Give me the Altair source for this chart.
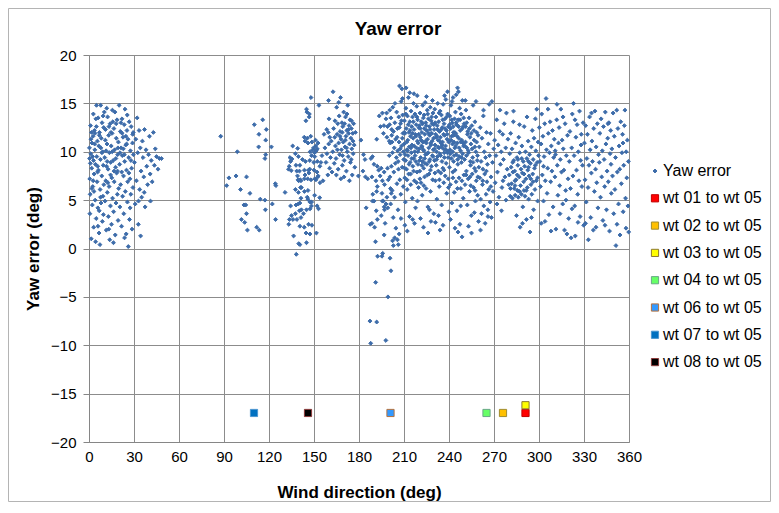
import altair as alt
import pandas as pd

# ---- Yaw error scatter: (wind direction, yaw error) ----
sec_000 = [(0.3,10.4),(0.5,7.2),(0.8,5.6),(1.0,12.7),(1.2,9.8),(0.6,3.6),(1.5,1.0),(1.8,8.3),(2.0,10.9),(2.2,4.5),
           (2.5,6.4),(2.7,11.6),(3.0,9.1),(3.1,2.2),(3.4,7.7),(3.6,12.2),(3.9,10.2),(4.1,5.0),(4.3,8.7),(4.6,13.4),
           (4.8,3.1),(5.0,14.8),(5.2,9.5),(5.4,6.9),(5.6,11.1),(5.9,4.2),(6.1,13.5),(6.3,8.1),(6.5,10.6),(6.7,1.6),
           (7.0,12.0),(7.3,0.4),(7.4,6.1),(7.6,9.2),(7.8,14.8),(8.0,4.7),(8.2,11.4),(8.5,7.5),(8.7,13.0),(8.9,2.8),
           (9.1,10.0),(9.3,5.4),(9.5,8.6),(9.8,12.5),(9.9,6.6),(1.3,11.3),(2.9,13.9),(4.4,0.7),(6.8,3.9),(3.3,5.9),
           (0.9,8.8),(5.7,7.9),(7.9,10.4),(9.6,3.5),(2.4,9.5),(6.0,2.3),
           (0.4,9.3),(1.7,12.0),(2.8,7.0),(3.8,10.8),(4.9,12.6),(5.8,8.5),(6.9,11.7),(7.7,5.3),(8.6,9.9),(9.4,13.7),
           (1.9,6.2),(4.0,11.9)]
sec_010 = [(10.2,14.1),(10.5,9.4),(10.7,4.9),(11.0,12.3),(11.2,7.0),(11.5,1.9),(11.8,14.5),(12.0,10.8),(12.2,5.8),(12.4,13.6),
           (12.7,8.2),(12.9,3.3),(13.1,11.7),(13.4,6.4),(13.6,9.9),(13.8,0.9),(14.1,12.9),(14.3,4.4),(14.5,8.9),(14.8,10.6),
           (15.0,2.5),(15.2,7.3),(15.4,11.9),(15.7,5.2),(15.9,13.1),(16.1,9.1),(16.4,3.8),(16.6,12.4),(16.8,6.9),(17.1,10.2),
           (17.3,14.1),(17.5,1.4),(17.7,8.4),(18.0,4.7),(18.2,11.4),(18.4,7.8),(18.7,13.3),(18.9,5.6),(19.1,9.7),(19.4,2.9),
           (19.6,11.0),(19.8,6.2),(11.4,10.1),(13.2,2.0),(15.6,14.3),(17.9,9.3),(12.6,6.8),(16.3,0.6),(14.6,12.0),(19.0,8.0),
           (10.9,11.2),(12.1,9.0),(13.3,12.6),(14.4,7.6),(15.5,10.0),(16.7,8.0),(18.1,12.9),(19.3,10.4),(11.7,8.5)]
sec_020 = [(20.1,14.8),(20.4,8.7),(20.6,4.3),(20.9,12.1),(21.1,6.6),(21.4,10.4),(21.7,2.3),(22.0,13.4),(22.2,9.6),(22.4,5.4),
           (22.7,11.5),(23.0,7.5),(23.2,3.6),(23.5,12.8),(23.8,9.0),(24.0,14.4),(24.2,5.9),(24.5,10.7),(24.8,1.5),(25.0,8.1),
           (25.3,12.2),(25.6,4.8),(25.8,6.9),(26.0,11.3),(26.2,0.2),(26.5,9.4),(26.8,13.1),(27.0,3.0),(27.3,7.2),(27.6,10.1),
           (27.9,5.6),(28.1,12.6),(28.4,8.3),(28.7,2.0),(29.0,10.9),(29.3,6.3),(29.6,9.7),(21.8,7.9),(23.7,1.1),(25.5,13.8),
           (27.4,4.2),(29.1,11.8),(22.9,10.3),
           (20.7,9.9),(22.1,11.9),(23.6,9.7),(25.1,10.8),(26.6,7.8),(28.0,9.1),(29.5,12.0),(21.3,13.0),(24.6,11.6)]
sec_030 = [(30.3,8.9),(30.8,4.6),(31.2,11.3),(31.6,7.0),(32.1,13.5),(32.5,9.9),(32.9,2.5),(33.4,12.2),(33.8,6.1),(34.2,10.4),
           (34.7,8.0),(35.1,5.3),(35.6,11.1),(36.0,9.4),(36.5,7.4),(37.0,12.3),(37.4,4.3),(38.0,10.2),(38.5,8.5),(39.1,6.6),
           (39.7,9.7),(40.3,11.6),(40.8,7.7),(41.5,9.1),(42.1,6.9),(42.9,12.0),(43.6,8.6),(44.2,10.3),(45.0,9.5),(46.0,8.2),
           (47.0,9.3),(33.0,4.9),(36.8,5.8),(41.0,4.9),(34.4,1.3),(48.3,9.3)]
sec_090 = [(87.8,11.6),(98.9,10.0),(93.3,7.3),(91.8,6.5),(98.0,7.5),(105.0,7.4),(101.0,6.1),(107.3,5.7),(103.3,4.5),(104.5,4.5),
           (105.0,3.6),(101.6,3.0),(103.8,2.7),(105.6,1.9),(111.8,2.2),(113.5,1.9),(110.2,12.8),(115.8,13.3),(118.2,12.3),(113.3,11.8),
           (117.8,11.2),(121.6,10.5),(117.8,9.7),(117.3,9.3),(114.2,5.1),(117.3,5.0),(122.2,4.6),(117.6,4.0),(124.4,3.0),(124.2,6.7),
           (124.6,6.5),(113.1,10.5),(130.7,5.8)]
sec_130 = [(135.8,10.6),(134.0,9.4),(135.3,9.25),(134.4,9.0),(133.5,8.5),(133.0,8.2),(134.8,8.05),(137.6,9.8),(139.1,10.35),(139.6,9.5),
           (138.0,8.6),(140.6,8.6),(138.5,8.0),(139.0,7.5),(139.4,7.1),(139.8,7.0),(140.8,7.1),(141.0,6.3),(141.6,6.3),(137.6,6.1),
           (139.6,5.8),(143.6,5.9),(146.0,6.0),(145.5,5.3),(145.9,5.1),(141.3,5.2),(147.3,4.8),(148.4,4.8),(150.4,5.5),(153.8,5.25),
           (134.4,4.4),(138.0,4.5),(139.5,4.6),(140.6,4.7),(137.6,3.6),(140.3,3.9),(141.6,4.0),(143.0,3.6),(135.0,3.4),(136.0,3.0),
           (138.6,3.0),(141.3,3.2),(133.6,3.0),(133.2,2.5),(145.0,4.0),(148.3,4.4),(152.1,4.4),(153.0,4.1),(147.4,4.1),(140.6,2.3),
           (143.5,2.2),(146.4,2.5),(148.6,2.4),(136.4,1.3),(144.7,1.6),(147.3,1.5),(151.6,1.6),(139.8,0.5),(140.6,0.4),(145.0,0.6),
           (138.2,-0.6),(145.3,14.1),(146.8,13.6),(144.6,13.2),(148.0,15.6),(153.3,14.8),(145.0,14.4),(146.9,13.9),(143.5,11.5),(145.5,11.4),
           (144.0,11.1),(147.8,11.6),(146.0,10.9),(148.6,11.0),(151.0,11.2),(152.7,10.9),(149.7,10.4),(151.2,10.6),(147.4,10.0),(149.2,10.2),
           (150.3,9.9),(151.5,10.1),(152.2,10.3),(148.4,9.6),(150.5,9.5),(142.3,9.2),(144.3,9.0),(147.2,9.1),(149.9,8.9),(152.2,9.0),
           (154.6,8.9),(153.9,8.5),(140.3,8.0),(143.6,8.1),(146.3,8.1),(147.2,8.2),(144.0,7.6),(146.6,7.8),(150.0,8.1),(152.0,7.9),
           (152.8,7.5),(151.3,7.1),(141.3,7.0),(143.6,7.2),(145.8,7.2),(148.0,7.1),(150.5,7.2),(152.5,7.4),(154.0,6.8),(156.0,7.0),
           (155.3,9.6),(156.7,11.8),(158.5,12.3),(159.5,12.0),(160.5,11.5),(159.7,15.3)]
sec_160 = [(157.3,10.4),(158.0,8.9),(158.6,9.8),(159.2,7.6),(159.8,10.8),(160.4,8.3),(161.0,9.4),(161.5,11.1),(162.0,7.9),(162.5,10.0),
           (162.7,16.2),(163.1,12.4),(163.5,8.8),(164.0,13.2),(164.3,10.6),(164.7,9.3),(165.1,14.6),(165.4,11.8),(165.8,12.9),(166.1,8.2),
           (166.4,10.9),(166.8,13.7),(167.1,9.7),(167.4,12.1),(167.7,15.6),(168.0,11.3),(168.3,10.2),(168.6,13.0),(168.9,8.6),(169.2,12.6),
           (169.5,11.0),(169.8,14.1),(170.1,9.1),(170.4,12.9),(170.7,10.5),(171.0,13.6),(171.3,11.6),(171.6,8.0),(171.9,12.2),(172.2,10.0),
           (172.5,14.8),(172.8,9.5),(173.1,11.9),(173.4,12.7),(173.7,10.8),(174.0,13.3),(174.3,8.9),(174.6,11.4),(174.9,12.4),(175.2,10.3),
           (175.5,7.6),(175.8,11.9),(176.1,9.8),(176.4,12.9),(176.8,10.7),(177.2,8.4),(164.9,7.6),(167.9,7.2),(170.0,7.4),(173.6,7.0),
           (166.5,15.1),(169.0,9.6),(172.0,13.9),(174.8,9.2),(163.8,11.5),(170.9,11.2),(168.8,12.0),(171.7,10.4),(165.6,10.2),(167.3,11.6),
           (173.0,12.3),(175.0,13.2),(176.0,11.1),(160.0,13.4),(177.6,12.0)]
sec_180 = [(181.3,11.2),(183.0,9.7),(184.0,9.2),(182.6,8.0),(179.6,7.5),(184.3,7.4),(185.8,7.2),(188.0,9.3),(189.0,9.5),(191.8,11.3),
           (193.5,13.7),(195.6,14.0),(198.4,14.0),(200.5,14.3),(198.0,13.4),(196.6,12.7),(194.3,12.6),(199.0,12.6),(201.8,12.3),(196.3,11.9),
           (198.6,11.5),(200.2,11.1),(190.0,8.7),(192.2,8.5),(194.8,8.3),(193.1,8.1),(188.6,7.4),(191.3,7.0),(194.1,7.5),(196.8,7.9),
           (199.0,8.3),(195.6,7.0),(192.2,6.4),(197.0,6.6),(199.5,7.1),(201.0,6.2),(189.2,5.6),(191.8,5.9),(195.3,5.7),(198.6,5.3),
           (196.2,4.9),(189.0,4.9),(190.0,4.9),(195.6,4.9),(196.8,4.3),(198.0,4.6),(199.2,4.2),(197.0,4.0),(184.8,4.2),(191.5,3.9),
           (194.8,3.4),(192.2,3.0),(197.4,2.6),(188.6,2.6),(187.5,2.5),(190.4,2.2),(196.8,1.4),(191.0,0.7),(202.4,0.8),(205.6,0.9),
           (195.8,-0.5),(192.4,-0.8),(195.3,-0.8),(200.7,-1.0),(201.3,-2.3),(191.1,-3.5),(199.3,-5.0),(187.3,-7.5),(191.8,-7.6),(197.9,-9.5),
           (187.8,-9.8)]
sec_200 = [(200.2,9.6),(200.4,12.8),(200.6,7.4),(200.9,10.9),(201.1,4.6),(201.3,13.5),(201.6,8.5),(201.8,11.7),(202.1,6.0),(202.3,9.9),
           (202.5,14.6),(202.8,3.2),(203.0,12.1),(203.2,7.9),(203.5,10.4),(203.7,5.3),(203.9,13.0),(204.2,8.8),(204.4,11.3),(204.6,2.1),
           (204.9,9.4),(205.1,14.1),(205.3,6.7),(205.6,12.4),(205.8,10.1),(206.0,4.0),(206.3,8.2),(206.5,13.6),(206.7,11.0),(207.0,16.8),
           (207.2,7.1),(207.4,9.7),(207.7,12.9),(207.9,5.6),(208.1,15.2),(208.4,10.6),(208.6,16.5),(208.8,8.4),(209.1,13.8),(209.3,11.9),
           (209.5,6.4),(209.8,9.2),(209.0,15.5),(206.8,1.5),(206.2,0.4),(203.8,1.1),(208.0,3.1),(201.5,5.7),(204.0,15.0),(202.0,11.0),
           (202.9,0.3),(205.4,11.5),(206.1,9.0),(206.9,12.5),(207.5,10.3),(208.3,13.2),(208.9,11.4),(209.6,10.0)]
sec_210 = [(210.1,10.8),(210.3,13.2),(210.5,7.3),(210.7,11.9),(210.9,4.8),(211.1,9.1),(211.3,14.5),(211.5,12.4),(211.7,8.2),(211.9,10.2),
           (212.1,6.1),(212.3,13.7),(212.5,11.2),(212.7,9.6),(212.9,15.6),(213.1,7.7),(213.3,12.0),(213.5,10.5),(213.7,3.3),(213.9,13.1),
           (214.1,8.9),(214.3,11.6),(214.5,6.6),(214.7,14.2),(214.9,9.9),(215.1,12.6),(215.3,10.7),(215.5,5.2),(215.7,13.6),(215.9,8.5),
           (216.1,11.4),(216.3,15.0),(216.5,9.3),(216.7,12.3),(216.9,7.0),(217.1,10.0),(217.3,13.9),(217.5,11.8),(217.7,4.2),(217.9,9.0),
           (218.1,12.8),(218.3,10.4),(218.5,14.7),(218.7,7.9),(218.9,11.1),(219.1,13.3),(219.3,8.7),(219.5,10.9),(219.7,6.3),(219.9,12.5),
           (210.6,2.4),(212.2,1.8),(215.8,3.0),(217.0,2.6),(219.0,4.9),(211.4,16.6),(213.8,16.1),(216.6,16.0),(218.8,15.8),
           (210.2,12.0),(210.8,9.7),(211.2,13.9),(211.8,11.0),(212.4,10.1),(212.8,12.8),(213.4,8.7),(214.0,12.2),(214.6,10.4),(215.2,9.3),
           (215.6,11.9),(216.2,13.1),(216.8,10.6),(217.4,9.6),(218.0,11.6),(218.6,13.6),(219.2,10.0),(219.8,11.8),
           (210.5,8.3),(212.0,7.1),(214.4,7.7),(216.4,8.0),(218.4,6.8)]
sec_220 = [(220.1,10.3),(220.3,12.7),(220.5,8.0),(220.7,14.0),(220.9,11.5),(221.1,9.4),(221.3,6.8),(221.5,13.1),(221.7,10.6),(221.9,12.0),
           (222.1,5.5),(222.3,9.0),(222.5,14.8),(222.7,11.0),(222.9,13.5),(223.1,8.3),(223.3,10.1),(223.5,12.4),(223.7,7.4),(223.9,11.8),
           (224.1,15.1),(224.3,9.7),(224.5,13.0),(224.7,6.2),(224.9,10.9),(225.1,12.2),(225.3,8.7),(225.5,14.3),(225.7,11.3),(225.9,4.3),
           (226.1,9.9),(226.3,13.4),(226.5,10.4),(226.7,7.7),(226.9,12.6),(227.1,11.7),(227.3,9.2),(227.5,14.6),(227.7,5.9),(227.9,10.7),
           (228.1,13.2),(228.3,8.5),(228.5,11.9),(228.7,12.9),(228.9,9.6),(229.1,7.1),(229.3,14.0),(229.5,10.2),(229.7,11.4),(229.9,3.6),
           (221.0,3.1),(223.0,2.2),(225.0,15.7),(226.0,1.6),(227.0,4.0),(228.0,2.8),(229.0,15.3),(224.0,8.8),(222.0,10.5),
           (220.4,9.1),(220.8,12.4),(221.4,11.2),(221.8,8.6),(222.4,12.9),(222.8,10.2),(223.4,13.8),(223.8,9.3),(224.4,11.1),(224.8,12.7),
           (225.4,9.8),(225.8,13.9),(226.4,11.9),(226.8,9.0),(227.4,12.3),(227.8,10.9),(228.4,13.6),(228.8,11.1),(229.4,9.5),(229.8,12.8),
           (220.6,7.2),(223.2,6.5),(225.6,7.6),(227.6,8.1)]
sec_230 = [(230.1,12.3),(230.3,9.1),(230.5,14.4),(230.7,10.7),(230.9,7.0),(231.1,11.8),(231.3,13.6),(231.5,8.6),(231.7,10.0),(231.9,5.1),
           (232.1,12.7),(232.3,9.5),(232.5,15.0),(232.7,11.2),(232.9,8.0),(233.1,13.1),(233.3,10.4),(233.5,6.4),(233.7,12.1),(233.9,9.8),
           (234.1,14.2),(234.3,11.5),(234.5,7.8),(234.7,10.9),(234.9,13.8),(235.1,4.5),(235.3,9.0),(235.5,12.5),(235.7,11.0),(235.9,8.3),
           (236.1,14.9),(236.3,10.3),(236.5,6.8),(236.7,12.9),(236.9,9.4),(237.1,11.7),(237.3,13.4),(237.5,7.5),(237.7,10.6),(237.9,15.4),
           (238.1,8.8),(238.3,12.2),(238.5,5.7),(238.7,11.3),(238.9,9.9),(239.1,13.9),(239.3,10.1),(239.5,7.2),(239.7,12.6),(239.9,3.8),
           (231.0,2.7),(233.0,3.4),(234.0,1.9),(236.0,2.4),(237.0,15.8),(239.0,16.2),(235.0,10.5),(232.0,11.6),
           (230.4,10.3),(230.8,13.0),(231.4,11.5),(231.8,9.2),(232.4,12.3),(232.8,10.5),(233.4,14.0),(233.8,11.1),(234.4,9.6),(234.8,12.3),
           (235.4,10.7),(235.8,13.3),(236.4,11.8),(236.8,9.9),(237.4,12.4),(237.8,10.2),(238.4,13.6),(238.8,11.8),(239.4,9.4),(239.8,11.0),
           (230.6,7.8),(233.6,7.1),(236.6,8.1),(239.6,6.3)]
sec_240 = [(240.1,11.1),(240.3,8.4),(240.5,13.7),(240.7,10.2),(240.9,6.6),(241.1,12.4),(241.3,14.8),(241.5,9.3),(241.7,11.6),(241.9,4.7),
           (242.1,13.0),(242.3,10.8),(242.5,7.9),(242.7,15.6),(242.9,12.0),(243.1,9.0),(243.3,11.0),(243.5,5.8),(243.7,13.4),(243.9,10.4),
           (244.1,8.1),(244.3,14.1),(244.5,11.9),(244.7,6.9),(244.9,9.7),(245.1,12.8),(245.3,3.9),(245.5,10.9),(245.7,16.6),(245.9,8.7),
           (246.1,13.3),(246.3,16.2),(246.5,11.4),(246.7,7.3),(246.9,9.5),(247.1,14.5),(247.3,2.5),(247.5,12.2),(247.7,10.1),(247.9,6.2),
           (248.1,13.9),(248.3,8.9),(248.5,11.2),(248.7,1.2),(248.9,15.3),(249.1,9.8),(249.3,12.6),(249.5,5.2),(249.7,10.6),(249.9,7.6),
           (241.0,3.0),(244.0,2.1),(246.0,1.7),(242.0,15.2),(244.8,15.9),(247.8,4.4),(243.2,11.7),
           (240.4,12.8),(240.8,9.8),(241.4,11.2),(241.8,13.3),(242.4,10.0),(242.8,12.6),(243.4,9.6),(243.8,12.0),(244.4,10.6),(244.8,13.0),
           (245.4,11.6),(245.8,9.2),(246.4,12.6),(246.8,10.4),(247.4,13.3),(247.8,11.0),(248.4,9.4),(248.8,12.4),(249.4,10.9),(249.8,13.5),
           (242.6,7.3),(245.6,6.2),(248.6,7.0)]
sec_250 = [(250.1,12.9),(250.4,9.2),(250.7,6.6),(251.0,11.0),(251.3,14.3),(251.6,8.0),(251.9,10.4),(252.2,4.5),(252.5,12.1),(252.8,7.2),
           (253.1,9.9),(253.4,13.5),(253.7,5.9),(254.0,11.5),(254.3,8.6),(254.6,10.8),(254.9,3.4),(255.2,12.7),(255.5,7.7),(255.8,9.4),
           (256.1,14.8),(256.4,6.3),(256.7,11.2),(257.0,8.3),(257.3,13.1),(257.6,4.9),(257.9,10.0),(258.2,7.0),(258.5,12.0),(258.8,9.1),
           (259.1,5.5),(259.4,11.7),(259.7,2.8),(250.9,15.3),(253.0,2.3),(255.0,1.6),(258.0,15.2),(251.8,13.0),(254.5,6.5),(256.9,3.7),
           (259.9,8.4),(250.5,10.6),(251.1,12.6),(251.7,9.6),(252.3,11.8),(252.9,10.1),(253.6,12.4),(254.2,9.0),(254.8,11.9),(255.4,10.3),
           (256.0,8.9),(256.6,12.2),(257.2,10.5),(257.8,8.0),(258.4,11.0),(259.0,9.6),(251.4,7.6),(254.0,7.4),(257.4,6.0),(259.2,7.4)]
sec_260 = [(260.2,10.5),(260.5,7.3),(260.8,12.5),(261.1,5.1),(261.4,9.0),(261.7,3.6),(262.0,11.4),(262.3,6.6),(262.6,8.2),(262.9,13.7),
           (263.2,4.4),(263.5,10.0),(263.8,7.7),(264.1,2.6),(264.4,9.4),(264.7,5.6),(265.0,12.0),(265.3,6.9),(265.6,8.7),(265.9,4.0),
           (266.2,10.8),(266.5,6.1),(266.8,14.9),(267.1,9.6),(267.4,4.8),(267.7,11.9),(268.0,7.4),(268.3,3.2),(268.6,15.2),(269.0,8.9),
           (269.4,5.9),(269.8,10.3),(261.0,1.9),(263.0,14.3),(264.9,8.0),(266.0,3.3),(262.5,7.0),(267.9,6.4)]
sec_270 = [(270.4,11.2),(270.8,6.8),(271.3,9.6),(271.8,13.3),(272.3,7.9),(272.8,10.7),(273.3,5.3),(273.8,12.1),(274.3,8.7),(274.8,10.0),
           (275.3,6.3),(275.8,11.8),(276.3,9.2),(276.8,12.9),(277.3,7.4),(277.8,10.4),(278.3,14.0),(278.8,8.2),(279.3,11.3),(279.8,6.6),
           (272.0,4.6),(275.0,3.9),(278.0,5.0),(274.0,14.3),(276.0,7.0)]
sec_280 = [(280.2,7.6),(280.5,9.8),(280.8,5.4),(281.1,11.9),(281.4,8.4),(281.7,6.7),(282.0,10.3),(282.3,5.2),(282.6,7.9),(282.9,13.1),
           (283.2,9.1),(283.5,6.2),(283.8,8.0),(284.1,5.5),(284.4,10.9),(284.7,7.1),(285.0,3.4),(285.3,9.4),(285.6,6.0),(285.9,8.6),
           (286.2,5.3),(286.5,11.5),(286.8,7.4),(287.1,9.9),(287.4,2.2),(287.7,6.5),(288.0,8.2),(288.3,5.6),(288.6,10.6),(288.9,7.8),
           (289.2,4.3),(289.5,9.0),(289.8,6.9),(290.1,12.6),(290.4,8.5),(290.7,5.4),(291.0,10.0),(291.3,7.2),(291.6,3.0),(291.9,9.3),
           (292.2,6.3),(292.5,8.1),(292.8,11.1),(293.1,5.1),(293.4,7.5),(293.7,9.7),(294.0,1.7),(294.3,8.8),(294.6,6.6),(294.9,10.5),
           (295.2,5.6),(295.5,12.2),(295.8,7.7),(296.1,9.2),(296.4,4.0),(296.7,11.4),(297.0,8.3),(297.3,6.1),(297.6,13.4),(297.9,10.1),
           (298.2,7.0),(298.5,14.4),(298.8,8.9),(299.1,4.9),(299.4,11.0),(299.7,9.6),(283.0,14.2),(287.0,12.8),(289.0,2.6),(292.0,13.6),
           (295.0,3.2),(284.0,7.0),(286.0,9.2),(290.0,6.0),(293.0,8.4),
           (281.0,6.2),(282.5,8.9),(284.0,6.5),(285.5,7.6),(287.0,5.9),(288.5,9.3),(290.0,7.7),(291.5,6.0),(293.0,9.0),(294.5,7.2),
           (296.0,6.9),(297.5,8.6),(299.0,7.3)]
sec_300 = [(300.2,12.5),(300.6,9.0),(301.0,6.4),(301.4,10.8),(301.8,13.9),(302.2,7.6),(302.6,11.6),(303.0,4.9),(303.4,9.5),(303.8,12.9),
           (304.2,7.0),(304.7,15.5),(305.0,10.2),(305.4,5.7),(305.8,8.3),(306.2,11.9),(306.6,3.5),(307.0,9.9),(307.4,13.1),(307.8,6.9),
           (308.2,10.6),(308.6,8.0),(309.0,12.2),(309.4,4.3),(309.8,9.4),(301.5,2.6),(304.0,2.8),(306.0,14.4),(308.0,1.8),(303.0,8.5)]
sec_310 = [(310.2,11.3),(310.6,7.4),(311.0,9.7),(311.3,2.0),(311.8,13.3),(312.2,8.6),(312.6,5.5),(313.0,10.9),(313.4,12.5),(313.8,6.5),
           (314.2,9.2),(314.6,14.4),(315.0,7.9),(315.4,11.2),(315.8,4.6),(316.2,10.3),(316.6,8.1),(317.0,1.9),(317.4,12.9),(317.8,6.0),
           (318.2,9.6),(318.6,1.5),(319.0,11.7),(319.4,7.2),(319.8,3.1),(312.0,14.9),(316.0,13.6),(314.0,3.6),(318.0,5.0),(310.8,10.1)]
sec_320 = [(320.2,9.0),(320.6,12.1),(321.0,6.2),(321.4,1.1),(321.8,10.4),(322.2,13.9),(322.6,7.5),(323.0,15.0),(323.4,9.6),(323.8,4.4),
           (324.2,1.3),(324.6,11.5),(325.0,8.1),(325.4,12.8),(325.8,5.6),(326.2,10.0),(326.6,7.0),(327.0,14.2),(327.4,3.3),(327.8,9.1),
           (328.2,11.8),(328.6,6.4),(329.0,8.6),(329.4,13.0),(329.8,2.4),(322.0,4.1),(326.0,2.7),(328.0,10.7),(324.0,13.3)]
sec_330 = [(330.3,10.9),(330.7,7.1),(331.1,12.7),(331.5,4.8),(331.9,9.3),(332.3,11.8),(332.7,6.3),(332.9,0.9),(333.3,8.6),(333.7,13.6),
           (334.1,10.2),(334.5,3.2),(334.9,7.8),(335.3,11.1),(335.7,9.0),(336.2,1.9),(336.5,12.4),(336.9,5.9),(337.3,14.2),(337.7,8.2),
           (338.1,10.5),(338.5,6.8),(338.9,12.9),(339.3,4.2),(339.7,9.7),(331.0,2.6),(335.0,14.0),(338.0,2.2)]
sec_340 = [(340.2,8.9),(340.6,11.9),(341.0,5.3),(341.4,13.4),(341.8,7.4),(342.2,10.1),(342.6,2.9),(343.0,12.6),(343.4,9.2),(343.8,6.4),
           (344.2,14.1),(344.6,10.8),(345.0,4.0),(345.4,8.0),(345.8,11.4),(346.2,6.9),(346.6,13.0),(347.0,1.8),(347.4,9.8),(347.8,12.2),
           (348.2,5.7),(348.6,10.3),(349.0,7.5),(349.4,14.0),(349.8,3.6),(344.0,2.4),(346.0,12.9),(348.0,8.7)]
sec_350 = [(350.2,11.6),(350.6,6.1),(351.0,9.4),(351.3,0.3),(351.8,14.3),(352.2,7.9),(352.6,12.4),(353.0,4.6),(353.4,10.6),(353.8,8.2),
           (354.0,1.4),(354.5,13.1),(354.9,6.7),(355.3,9.9),(355.7,11.8),(356.1,3.8),(356.5,8.6),(356.9,12.7),(357.3,14.3),(357.7,5.2),
           (358.1,10.0),(358.5,7.3),(358.9,11.2),(359.3,4.4),(359.6,9.0),(359.8,1.7),(352.0,2.5),(356.0,10.9),(358.0,2.1)]

# ---- turbine-to-turbine direction markers ----
series_names = ["Yaw error", "wt 01 to wt 05", "wt 02 to wt 05", "wt 03 to wt 05", "wt 04 to wt 05",
                "wt 06 to wt 05", "wt 07 to wt 05", "wt 08 to wt 05"]
wt_dir = [291, 276, 291, 265, 201, 110, 146]
wt_err = [-17, -17, -16.2, -17, -17, -17, -17]

fill_colors = ["#3D6CAA", "#FF0000", "#FFC000", "#FFFF00", "#66FF66", "#3399FF", "#0070C0", "#000000"]
stroke_colors = ["#3D6CAA", "#C00000", "#A08C30", "#8C7A30", "#6AA888", "#B5723F", "#4A96D0", "#8B3A3A"]
# small diamond for the scatter, larger square for the markers (unit-box symbol paths)
DIAMOND = "M0,-0.49L0.49,0L0,0.49L-0.49,0Z"
SQUARE = "M-0.9,-0.9L0.9,-0.9L0.9,0.9L-0.9,0.9Z"
shapes = [DIAMOND] + [SQUARE] * 7

scatter = (sec_000 + sec_010 + sec_020 + sec_030 + sec_090 + sec_130 + sec_160 + sec_180 +
           sec_200 + sec_210 + sec_220 + sec_230 + sec_240 + sec_250 + sec_260 + sec_270 +
           sec_280 + sec_300 + sec_310 + sec_320 + sec_330 + sec_340 + sec_350)

df = pd.DataFrame({
    "wd": [p[0] for p in scatter] + wt_dir,
    "ye": [p[1] for p in scatter] + wt_err,
    "series": ["Yaw error"] * len(scatter) + series_names[1:],
})

FONT = "Liberation Sans"
leg = alt.Legend(title=None, orient="none", legendX=558, legendY=108, labelFontSize=16,
                 labelFont=FONT, labelColor="black", rowPadding=11.3, labelOffset=0, padding=0,
                 symbolStrokeWidth=1, symbolSize=64)

points = alt.Chart(df).mark_point(filled=True, strokeWidth=1, opacity=1, size=64).encode(
    x=alt.X("wd:Q", scale=alt.Scale(domain=[0, 360], nice=False, zero=False),
            axis=alt.Axis(values=list(range(0, 361, 30)), title="Wind direction (deg)",
                          tickSize=0, labelPadding=7, titlePadding=20, labelFlush=False)),
    y=alt.Y("ye:Q", scale=alt.Scale(domain=[-20, 20], nice=False, zero=False),
            axis=alt.Axis(values=list(range(-20, 21, 5)), title="Yaw error (deg)",
                          tickSize=6, labelPadding=7, titlePadding=8, labelFlush=False)),
    fill=alt.Fill("series:N", scale=alt.Scale(domain=series_names, range=fill_colors), legend=leg),
    stroke=alt.Stroke("series:N", scale=alt.Scale(domain=series_names, range=stroke_colors), legend=leg),
    shape=alt.Shape("series:N", scale=alt.Scale(domain=series_names, range=shapes), legend=leg),
)

border = alt.Chart(pd.DataFrame({"k": [0]})).mark_rect(fill="white", fillOpacity=0, stroke="#B4B4B4", strokeWidth=1).encode(
    x=alt.value(-80.5), x2=alt.value(681.5), y=alt.value(-46.5), y2=alt.value(446.5)
)

chart = alt.layer(border, points).properties(
    width=540, height=387,
    autosize=alt.AutoSizeParams(type="none"),
    padding={"left": 81, "top": 47, "right": 142, "bottom": 60},
    background="white",
    title=alt.Title("Yaw error", font=FONT, fontSize=19, fontWeight="bold", color="black",
                    anchor="middle", frame="group", dx=39, dy=45, offset=14),
).configure_axis(
    labelFont=FONT, labelFontSize=15, labelColor="black",
    titleFont=FONT, titleFontSize=17, titleFontWeight="bold", titleColor="black",
    gridColor="#8C8C8C", gridWidth=1, domainColor="#868686", tickColor="#868686",
).configure_view(strokeWidth=0)

chart.save("out.html", embed_options={"renderer": "svg", "actions": False})
